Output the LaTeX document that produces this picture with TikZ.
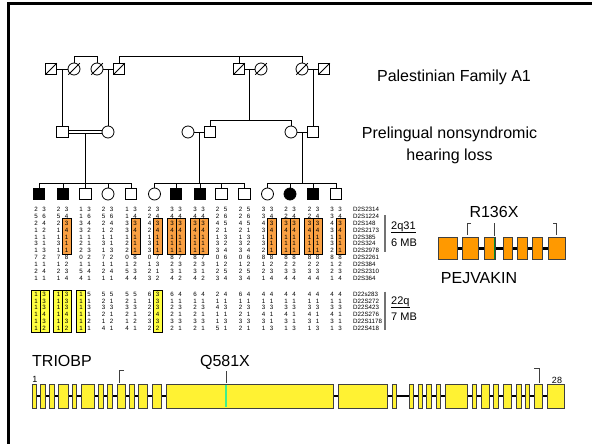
\documentclass[tikz,border=0pt]{standalone}
\usepackage{fontspec}
\setmainfont{Liberation Sans}
\usetikzlibrary{calc}
\definecolor{hapor}{RGB}{250,160,66}
\definecolor{hapyl}{RGB}{255,255,64}
\definecolor{geneor}{RGB}{255,153,0}
\definecolor{geneyl}{RGB}{255,242,51}
\definecolor{mutgr}{RGB}{64,238,140}
\definecolor{mutdk}{RGB}{0,140,40}
\tikzset{
  sq/.style={draw, rectangle, line width=0.8pt, minimum size=11.5pt, inner sep=0pt, fill=white},
  ci/.style={draw, circle, line width=0.8pt, minimum size=12pt, inner sep=0pt, fill=white},
  aff/.style={fill=black},
  ln/.style={line width=0.8pt},
  slash/.style={line width=0.8pt},
  dig/.style={font=\fontsize{6.2}{7}\selectfont, inner sep=0pt},
  mk/.style={font=\fontsize{6.2}{7}\selectfont, inner sep=0pt, anchor=west},
  hbo/.style={draw=black, line width=0.7pt, fill=hapor},
  hby/.style={draw=black, line width=0.7pt, fill=hapyl},
  exT/.style={draw=black!75, line width=0.7pt, fill=geneyl},
  exP/.style={draw=black!75, line width=0.7pt, fill=geneor},
  intr/.style={line width=2.6pt},
  big/.style={font=\fontsize{16}{19}\selectfont, inner sep=0pt, anchor=base},
  reg/.style={font=\fontsize{11}{13}\selectfont, inner sep=0pt, anchor=base west},
  small/.style={font=\fontsize{9}{10}\selectfont, inner sep=0pt, anchor=base},
  tick/.style={line width=0.7pt, black!75},
  bar/.style={line width=1.6pt, black!55},
}
\newcommand{\decd}[1]{\draw[slash] ($(#1.center)+(-5.75,5.75)$) -- ($(#1.center)+(5.75,-5.75)$);}
\newcommand{\hapcol}[5]{%
  \foreach \a/\b [count=\r] in {#5} {
    \node[dig] (#1a\r) at ({#2-4},{#3+(\r-1)*#4}) {\a};
    \node[dig] (#1b\r) at ({#2+4},{#3+(\r-1)*#4}) {\b};
  }}
\newcommand{\boxR}[4]{\draw[#1] (#2,#3) rectangle ({#2+9},#4);}
\newcommand{\boxL}[4]{\draw[#1] ({#2-9},#3) rectangle (#2,#4);}
\begin{document}
\begin{tikzpicture}[x=1pt,y=-1pt]
\useasboundingbox (0,0) rectangle (592,444);
% frame
\draw[line width=2.8pt] (8.4,444) -- (8.4,3.8) -- (592,3.8);

% ---------------- pedigree ----------------
% generation I
\node[sq] (a1) at (51,69) {};
\node[ci] (a2) at (74,69) {};
\node[ci] (a3) at (97,69) {};
\node[sq] (a4) at (119,69) {};
\node[sq] (a5) at (239,69) {};
\node[ci] (a6) at (261,69) {};
\node[ci] (a7) at (302,69) {};
\node[sq] (a8) at (324,69) {};
\foreach \n in {a1,a2,a3,a4,a5,a6,a7,a8} {\decd{\n}}
% generation II
\node[sq] (b1) at (62.5,132) {};
\node[ci] (b2) at (108,132) {};
\node[ci] (b3) at (188,132) {};
\node[sq] (b4) at (210,132) {};
\node[ci] (b5) at (291,132) {};
\node[sq] (b6) at (313,132) {};
% generation III
\node[sq,aff] (c1) at (39,194) {};
\node[sq,aff] (c2) at (63,194) {};
\node[sq] (c3) at (85.5,194) {};
\node[ci] (c4) at (108,194) {};
\node[sq] (c5) at (131,194) {};
\node[ci] (c6) at (154.5,194) {};
\node[sq,aff] (c7) at (176,194) {};
\node[sq,aff] (c8) at (200,194) {};
\node[sq] (c9) at (221.5,194) {};
\node[sq] (c10) at (244.5,194) {};
\node[ci] (c11) at (267.5,194) {};
\node[ci,aff] (c12) at (290,194) {};
\node[sq,aff] (c13) at (313,194) {};
\node[sq] (c14) at (336,194) {};

% gen I connections
\draw[ln] (a1.east) -- (a2.west);
\coordinate (mA) at ($(a1.east)!0.5!(a2.west)$);
\draw[ln] (mA) -- (mA |- b1.north);
\draw[ln] (a3.east) -- (a4.west);
\coordinate (mB) at ($(a3.east)!0.5!(a4.west)$);
\draw[ln] (mB) -- (mB |- b2.north);
\coordinate (sA) at ($(a2.north)+(0,-6)$);
\draw[ln] (a2.north) -- (sA) -| (a3.north);
\coordinate (sB) at ($(a4.north)+(0,-6)$);
\draw[ln] (a4.north) -- (sB) -| (a7.north);
\draw[ln] (a5.north) -- (a5.north |- sB);
\draw[ln] (a5.east) -- (a6.west);
\coordinate (mC) at ($(a5.east)!0.5!(a6.west)$);
\coordinate (sC) at ($(mC)+(0,51)$);
\draw[ln] (mC) -- (sC);
\draw[ln] (b4.north) -- (b4.north |- sC) -| (b5.north);
\draw[ln] (a7.east) -- (a8.west);
\coordinate (mD) at ($(a7.east)!0.5!(a8.west)$);
\draw[ln] (mD) -- (mD |- b6.north);

% gen II connections
\draw[ln] ($(b1.east)+(0,-1.6)$) -- ($(b2.west)+(0,-1.6)$);
\draw[ln] ($(b1.east)+(0,1.6)$) -- ($(b2.west)+(0,1.6)$);
\coordinate (m1a) at ($(b1.east)!0.5!(b2.west)$);
\coordinate (m1) at ($(m1a)+(0,1.6)$);
\coordinate (L3) at (0,183);
\draw[ln] (m1) -- (m1 |- L3);
\draw[ln] (c1.north) -- (c1.north |- L3) -| (c5.north);
\foreach \k in {c2,c3,c4} {\draw[ln] (\k.north) -- (\k.north |- L3);}
\draw[ln] (b3.east) -- (b4.west);
\coordinate (m2) at ($(b3.east)!0.5!(b4.west)$);
\draw[ln] (m2) -- (m2 |- L3);
\draw[ln] (c6.north) -- (c6.north |- L3) -| (c10.north);
\foreach \k in {c7,c8,c9} {\draw[ln] (\k.north) -- (\k.north |- L3);}
\draw[ln] (b5.east) -- (b6.west);
\coordinate (m3) at ($(b5.east)!0.5!(b6.west)$);
\draw[ln] (m3) -- (m3 |- L3);
\draw[ln] (c11.north) -- (c11.north |- L3) -| (c14.north);
\foreach \k in {c12,c13} {\draw[ln] (\k.north) -- (\k.north |- L3);}

% ---------------- haplotypes 2q31 ----------------
\def\yA{218.2} \def\yB{254.6}
\boxR{hbo}{62.5}{\yA}{\yB}
\boxR{hbo}{131}{\yA}{\yB}
\boxR{hbo}{153.5}{\yA}{\yB}
\boxL{hbo}{176}{\yA}{\yB} \boxR{hbo}{176}{\yA}{\yB}
\boxL{hbo}{199}{\yA}{\yB} \boxR{hbo}{199}{\yA}{\yB}
\boxR{hbo}{267.5}{\yA}{\yB}
\boxL{hbo}{290}{\yA}{\yB} \boxR{hbo}{290}{\yA}{\yB}
\boxL{hbo}{313.5}{\yA}{\yB} \boxR{hbo}{313.5}{\yA}{\yB}
\boxR{hbo}{336}{\yA}{\yB}

\hapcol{p1}{40}{209.5}{6.85}{2/3,5/6,2/4,1/2,1/1,3/1,1/3,7/2,1/1,2/4,1/1}
\hapcol{p2}{62.5}{209.5}{6.85}{2/3,5/4,2/3,1/4,1/1,3/1,1/1,7/8,1/2,2/3,1/4}
\hapcol{p3}{85}{209.5}{6.85}{1/3,1/6,3/4,3/2,1/1,2/1,2/3,0/2,1/1,5/4,4/1}
\hapcol{p4}{107.5}{209.5}{6.85}{2/3,5/6,2/4,1/2,1/1,3/1,1/3,7/2,1/1,2/4,1/1}
\hapcol{p5}{131}{209.5}{6.85}{1/3,1/4,3/3,3/4,1/1,2/1,2/1,0/8,1/2,5/3,4/4}
\hapcol{p6}{153.5}{209.5}{6.85}{2/3,2/4,4/3,2/4,1/1,3/1,3/1,0/7,1/3,2/1,3/2}
\hapcol{p7}{176}{209.5}{6.85}{3/3,4/4,3/3,4/4,1/1,1/1,1/1,8/7,2/3,3/1,4/2}
\hapcol{p8}{199}{209.5}{6.85}{3/3,4/4,3/3,4/4,1/1,1/1,1/1,8/7,2/3,3/1,4/2}
\hapcol{p9}{221.5}{209.5}{6.85}{2/5,2/6,4/5,2/1,1/3,3/2,3/4,0/6,1/2,2/5,3/4}
\hapcol{p10}{244.5}{209.5}{6.85}{2/5,2/6,4/5,2/1,1/3,3/2,3/4,0/6,1/2,2/5,3/4}
\hapcol{p11}{267.5}{209.5}{6.85}{3/3,3/4,4/3,3/4,1/1,3/1,2/1,8/8,1/2,2/3,1/4}
\hapcol{p12}{290}{209.5}{6.85}{2/3,2/4,3/3,4/4,1/1,1/1,1/1,8/8,2/2,3/3,4/4}
\hapcol{p13}{313.5}{209.5}{6.85}{2/3,2/4,3/3,4/4,1/1,1/1,1/1,8/8,2/2,3/3,4/4}
\hapcol{p14}{336}{209.5}{6.85}{3/3,3/4,4/3,3/4,1/1,3/1,2/1,8/8,1/2,2/3,1/4}
\foreach \m [count=\r] in {D2S2314,D2S1224,D2S148,D2S2173,D2S385,D2S324,D2S2978,D2S2261,D2S384,D2S2310,D2S364}
  {\node[mk] (mkA\r) at (353,{209.5+(\r-1)*6.85}) {\m};}

% ---------------- haplotypes 22q ----------------
\def\yC{290.2} \def\yD{332}
\boxL{hby}{40}{\yC}{\yD} \boxR{hby}{40}{\yC}{\yD}
\boxL{hby}{62.5}{\yC}{\yD} \boxR{hby}{62.5}{\yC}{\yD}
\boxL{hby}{85}{\yC}{\yD}
\boxR{hby}{153.5}{\yC}{\yD}
\hapcol{q1}{40}{294.2}{6.8}{1/3,1/3,1/3,1/4,1/3,1/2}
\hapcol{q2}{62.5}{294.2}{6.8}{1/3,1/3,1/3,1/4,1/3,1/2}
\hapcol{q3}{85}{294.2}{6.8}{1/5,1/1,1/3,1/1,1/2,1/1}
\hapcol{q4}{107.5}{294.2}{6.8}{5/5,2/1,3/3,2/1,1/2,4/1}
\hapcol{q5}{131}{294.2}{6.8}{5/5,2/1,3/3,2/1,1/2,4/1}
\hapcol{q6}{153.5}{294.2}{6.8}{6/3,1/3,2/3,2/4,3/3,2/2}
\hapcol{q7}{176}{294.2}{6.8}{6/4,1/1,2/3,2/1,3/3,2/1}
\hapcol{q8}{199}{294.2}{6.8}{6/4,1/1,2/3,2/1,3/3,2/1}
\hapcol{q9}{221.5}{294.2}{6.8}{2/4,1/1,4/3,1/1,1/3,5/1}
\hapcol{q10}{244.5}{294.2}{6.8}{6/4,1/1,2/3,2/1,3/3,2/1}
\hapcol{q11}{267.5}{294.2}{6.8}{4/4,1/1,3/3,4/1,3/1,1/3}
\hapcol{q12}{290}{294.2}{6.8}{4/4,1/1,3/3,4/1,3/1,1/3}
\hapcol{q13}{313.5}{294.2}{6.8}{4/4,1/1,3/3,4/1,3/1,1/3}
\hapcol{q14}{336}{294.2}{6.8}{4/4,1/1,3/3,4/1,3/1,1/3}
\foreach \m [count=\r] in {D22s283,D22S272,D22S423,D22S276,D22S1178,D22S418}
  {\node[mk] (mkB\r) at (353,{294.2+(\r-1)*6.8}) {\m};}

% region labels
\draw[bar] (385,215) -- (385,252);
\draw[bar] (385,291.5) -- (385,330);
\node[reg] (r1) at (391,229) {\underline{2q31}};
\node[reg] (r2) at (391,246) {6 MB};
\node[reg] (r3) at (391,304) {\underline{22q}};
\node[reg] (r4) at (391,320) {7 MB};

% titles
\node[big] (title) at (454,81.5) {Palestinian Family A1};
\node[big] (ph1) at (449.5,139) {Prelingual nonsyndromic};
\node[big] (ph2) at (449.5,160) {hearing loss};

% ---------------- PEJVAKIN ----------------
\draw[line width=3pt] (438,248) -- (565,248);
\foreach \a/\b in {438/457,462/478,484/495,503/512,517/527,532/542,548/565}
  {\draw[exP] (\a,237) rectangle (\b,259);}
\draw[mutdk, line width=0.8pt] (494.5,237.5) -- (494.5,258.5);
\node[big] (r136) at (494,217) {R136X};
\coordinate (pt1) at (494.3,223);
\coordinate (pt2) at (494.3,236);
\draw[tick] (pt1) -- (pt2);
\draw[tick] (471,223) -- (467.3,223) -- (467.3,235);
\draw[tick] (553,223) -- (556.3,223) -- (556.3,235);
\node[big] (pej) at (479,283) {PEJVAKIN};

% ---------------- TRIOBP ----------------
\draw[intr] (32,396) -- (564,396);
\foreach \a/\b in {32/36,40/45,49/54,58/68,72/76,81/94,98/103,107/112,117/125,129/134,138/147,152/161,166/333,338/387,392/396,409/413,418/422,426/431,436/440,445/467,472/476,481/489,493/498,503/511,516/521,525/529,534/542,547/564}
  {\draw[exT] (\a,384) rectangle (\b,408);}
\draw[mutgr, line width=2pt] (226,384.6) -- (226,407.4);
\node[big] (trio) at (62,366) {TRIOBP};
\node[big] (q581) at (225,366) {Q581X};
\coordinate (qt1) at (226,371);
\coordinate (qt2) at (226,383);
\draw[tick] (qt1) -- (qt2);
\draw[tick] (124,370) -- (119.3,370) -- (119.3,383);
\draw[tick] (534,368) -- (539,368) -- (539,383);
\node[small] (ex1) at (35,382.5) {1};
\node[small] (ex28) at (557,383.3) {28};
\end{tikzpicture}
\end{document}
